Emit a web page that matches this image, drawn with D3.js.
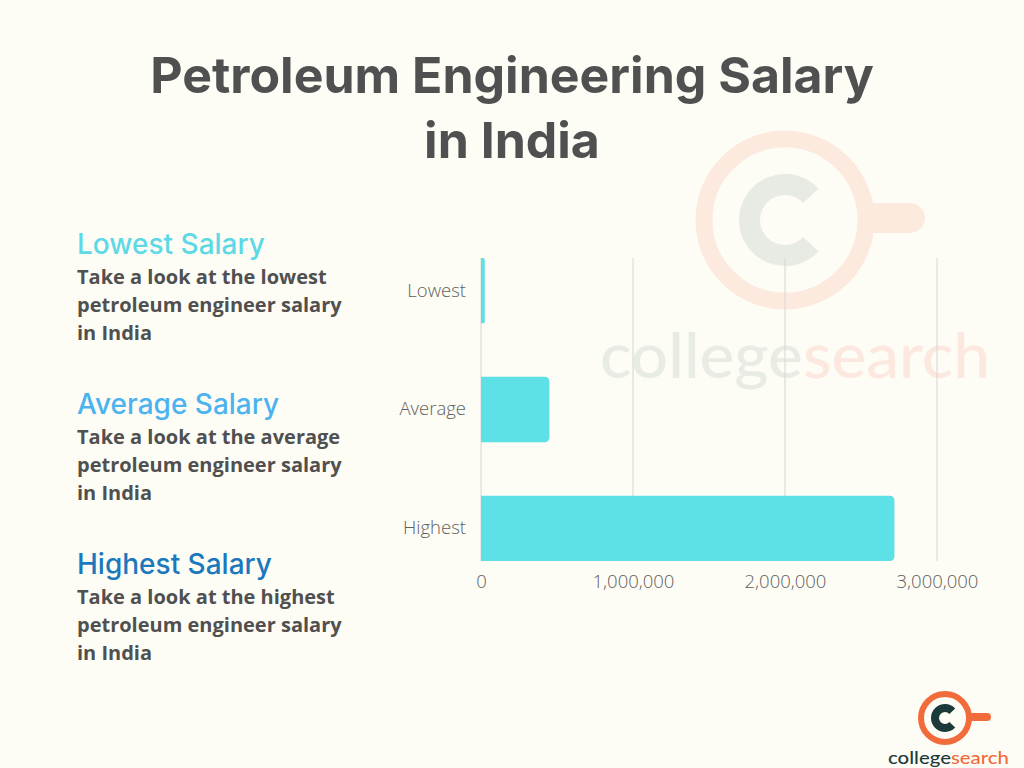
<!DOCTYPE html>
<html>
<head>
<meta charset="utf-8">
<script src="https://cdn.jsdelivr.net/npm/d3@7"></script>
<style>
  html, body { margin: 0; padding: 0; background: #fdfdf6; }
  svg { display: block; }
</style>
</head>
<body>
<div id="container"></div>
<script>
// Petroleum Engineering Salary in India - horizontal bar chart

//### DATA ###
const categories = [ 'Lowest', 'Average', 'Highest' ];
const salaries = [ 25000, 450000, 2720000 ];
const xTicks = [ 0, 1000000, 2000000, 3000000 ];
const titleLines = [ 'Petroleum Engineering Salary', 'in India' ];
const headings = [ 'Lowest Salary', 'Average Salary', 'Highest Salary' ];
const descriptions = [
  [ 'Take a look at the lowest', 'petroleum engineer salary', 'in India' ],
  [ 'Take a look at the average', 'petroleum engineer salary', 'in India' ],
  [ 'Take a look at the highest', 'petroleum engineer salary', 'in India' ]
];

//_____ VARIABLES _____
const W = 1024, H = 768;
const bgColor = '#fdfdf6';
const textDark = '#505050';
const barColor = '#5de0e6';
const headingColors = [ '#5dd9e6', '#4cb3ef', '#1b78bd' ];
const orange = '#f26b3a';
const teal = '#1d3a3a';
//>>> "C" arc, opening on the right side
const cStart = Math.PI * 0.74;
const cEnd = Math.PI * 2.26;

const svg = d3.select( '#container' )
  .append( 'svg' )
  .attr( 'width', W )
  .attr( 'height', H );

svg.append( 'rect' )
  .attr( 'width', W )
  .attr( 'height', H )
  .attr( 'fill', bgColor );

//_____ WATERMARK (faded logo behind the chart) _____
const wm = svg.append( 'g' ).attr( 'transform', 'translate( 785, 220 )' );
wm.append( 'line' )
  .attr( 'x1', 60 ).attr( 'y1', -2 ).attr( 'x2', 125 ).attr( 'y2', -2 )
  .attr( 'stroke', '#fdeadf' ).attr( 'stroke-width', 30 ).attr( 'stroke-linecap', 'round' );
wm.append( 'circle' )
  .attr( 'r', 81 )
  .attr( 'fill', bgColor )
  .attr( 'stroke', '#fdeadf' ).attr( 'stroke-width', 17 );
wm.append( 'path' )
  .attr( 'd', d3.arc().innerRadius( 25 ).outerRadius( 46 ).startAngle( cStart ).endAngle( cEnd )() )
  .attr( 'fill', '#e8ebe4' );

const wmText = svg.append( 'text' )
  .attr( 'x', 600 )
  .attr( 'y', 378 )
  .attr( 'textLength', 390 )
  .attr( 'lengthAdjust', 'spacingAndGlyphs' )
  .style( 'font-family', 'Lato, sans-serif' )
  .style( 'font-size', '62px' )
  .style( 'font-weight', 500 );
wmText.append( 'tspan' ).attr( 'fill', '#e9ebe5' ).text( 'college' );
wmText.append( 'tspan' ).attr( 'fill', '#fce8de' ).text( 'search' );

//_____ TITLE _____
svg.selectAll( 'text.title' )
  .data( titleLines )
  .enter()
  .append( 'text' )
  .attr( 'class', 'title' )
  .attr( 'x', 512 )
  .attr( 'y', ( d, i ) => 93 + i * 65 )
  .attr( 'text-anchor', 'middle' )
  .attr( 'fill', textDark )
  .style( 'font-family', 'Inter, sans-serif' )
  .style( 'font-weight', 700 )
  .style( 'font-size', '50px' )
  .text( d => d );

//_____ LEFT TEXT BLOCKS _____
const blocks = svg.selectAll( 'g.block' )
  .data( headings )
  .enter()
  .append( 'g' )
  .attr( 'class', 'block' )
  .attr( 'transform', ( d, i ) => `translate( 77, ${254 + i * 160} )` );

blocks.append( 'text' )
  .attr( 'fill', ( d, i ) => headingColors[ i ] )
  .style( 'font-family', 'Inter, sans-serif' )
  .style( 'font-weight', 500 )
  .style( 'font-size', '28px' )
  .text( d => d );

blocks.each( function ( d, i ) {
  d3.select( this ).selectAll( 'text.desc' )
    .data( descriptions[ i ] )
    .enter()
    .append( 'text' )
    .attr( 'class', 'desc' )
    .attr( 'y', ( l, j ) => 30 + j * 28 )
    .attr( 'fill', textDark )
    .style( 'font-family', '"Open Sans", sans-serif' )
    .style( 'font-weight', 700 )
    .style( 'font-size', '20px' )
    .text( l => l );
} );

//_____ CHART _____
const plot = { left: 481, right: 937, top: 258, bottom: 561 };

const xScale = d3.scaleLinear()
  .domain( [ 0, 3000000 ] )
  .range( [ plot.left, plot.right ] );

const yScale = d3.scaleBand()
  .domain( categories )
  .range( [ plot.top, plot.bottom ] )
  .paddingInner( 0.45 )
  .paddingOuter( 0 );

//>>> Gridlines
svg.append( 'g' )
  .selectAll( 'line' )
  .data( xTicks )
  .enter()
  .append( 'line' )
  .attr( 'x1', d => xScale( d ) )
  .attr( 'x2', d => xScale( d ) )
  .attr( 'y1', plot.top )
  .attr( 'y2', plot.bottom )
  .attr( 'stroke', '#d6d6d2' )
  .attr( 'stroke-width', 1 );

//>>> Bars with rounded right corners
const barPath = ( x0, x1, y, h ) => {
  const r = Math.min( 5, ( x1 - x0 ) / 2, h / 2 );
  return `M${x0},${y} H${x1 - r} Q${x1},${y} ${x1},${y + r} V${y + h - r} Q${x1},${y + h} ${x1 - r},${y + h} H${x0} Z`;
};

svg.append( 'g' )
  .selectAll( 'path' )
  .data( categories )
  .enter()
  .append( 'path' )
  .attr( 'd', ( d, i ) => barPath( xScale( 0 ), xScale( salaries[ i ] ), yScale( d ), yScale.bandwidth() ) )
  .attr( 'fill', barColor );

//>>> X-axis
const xAxis = d3.axisBottom( xScale )
  .tickValues( xTicks )
  .tickFormat( d3.format( ',' ) )
  .tickSize( 0 )
  .tickPadding( 14 );

svg.append( 'g' )
  .attr( 'transform', `translate( 0, ${plot.bottom} )` )
  .call( xAxis )
  .call( g => g.select( '.domain' ).remove() )
  .selectAll( 'text' )
  .attr( 'fill', '#606060' )
  .style( 'font-family', '"Open Sans", sans-serif' )
  .style( 'font-weight', 300 )
  .style( 'font-size', '18.5px' );

//>>> Y-axis
const yAxis = d3.axisLeft( yScale )
  .tickSize( 0 )
  .tickPadding( 15 );

svg.append( 'g' )
  .attr( 'transform', `translate( ${plot.left}, 0 )` )
  .call( yAxis )
  .call( g => g.select( '.domain' ).remove() )
  .selectAll( 'text' )
  .attr( 'fill', '#606060' )
  .style( 'font-family', '"Open Sans", sans-serif' )
  .style( 'font-weight', 300 )
  .style( 'font-size', '18.5px' );

//_____ LOGO (bottom right) _____
const logo = svg.append( 'g' ).attr( 'transform', 'translate( 945, 718 )' );
logo.append( 'line' )
  .attr( 'x1', 24 ).attr( 'y1', -1 ).attr( 'x2', 42 ).attr( 'y2', -1 )
  .attr( 'stroke', orange ).attr( 'stroke-width', 8 ).attr( 'stroke-linecap', 'round' );
logo.append( 'circle' )
  .attr( 'r', 24 )
  .attr( 'fill', bgColor )
  .attr( 'stroke', orange ).attr( 'stroke-width', 6 );
logo.append( 'path' )
  .attr( 'd', d3.arc().innerRadius( 6 ).outerRadius( 14 ).startAngle( cStart ).endAngle( cEnd )() )
  .attr( 'fill', teal );

const logoText = svg.append( 'text' )
  .attr( 'x', 888 )
  .attr( 'y', 764 )
  .attr( 'textLength', 121 )
  .attr( 'lengthAdjust', 'spacingAndGlyphs' )
  .style( 'font-family', 'Lato, sans-serif' )
  .style( 'font-size', '18px' )
  .style( 'font-weight', 500 );
logoText.append( 'tspan' ).attr( 'fill', teal ).text( 'college' );
logoText.append( 'tspan' ).attr( 'fill', orange ).text( 'search' );
</script>
</body>
</html>
